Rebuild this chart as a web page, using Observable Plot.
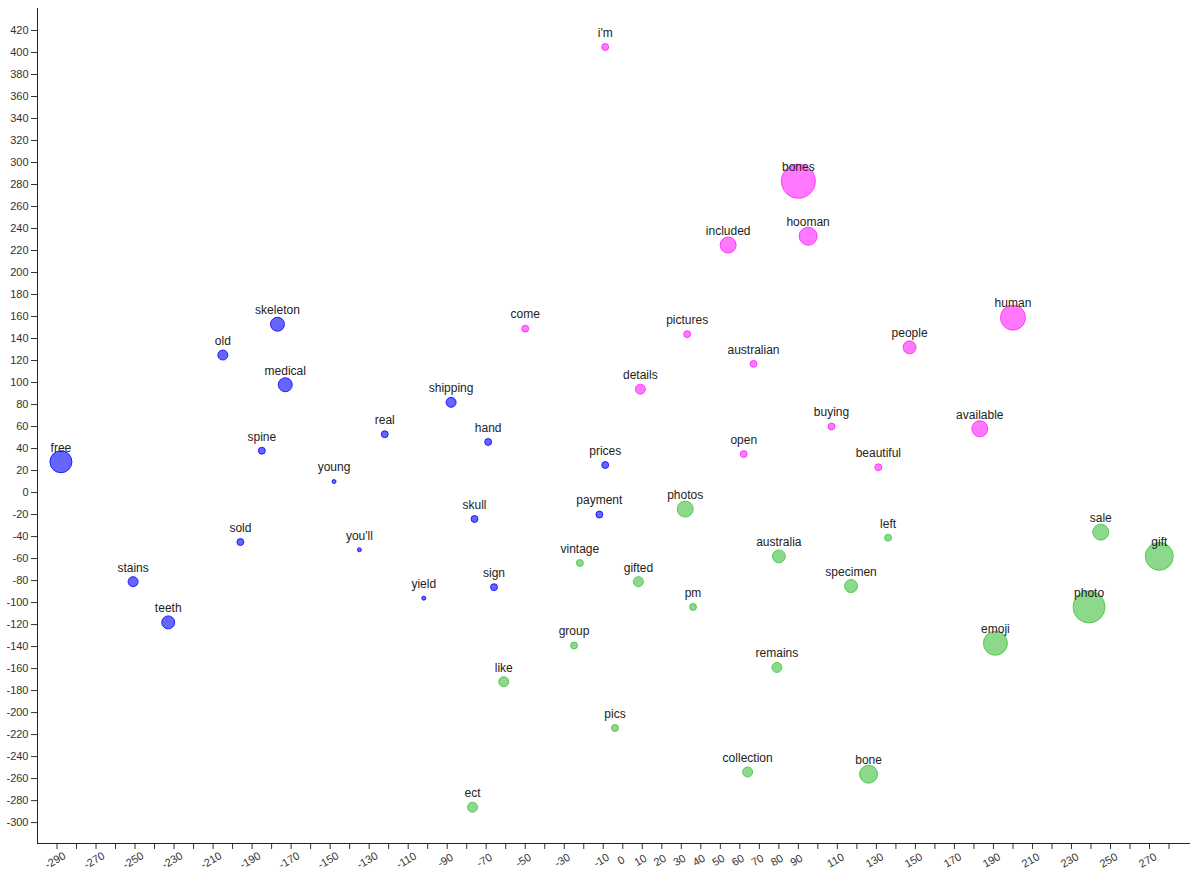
<!DOCTYPE html>
<html>
<head>
<meta charset="utf-8">
<script src="https://cdn.jsdelivr.net/npm/d3@7"></script>
<script src="https://cdn.jsdelivr.net/npm/@observablehq/plot@0.6"></script>
<style>
  body { margin: 0; background: #fff; }
  #chart { width: 1200px; height: 878px; }
</style>
</head>
<body>
<div id="chart"></div>
<script>
// words and their 2-d embedding positions
const words = [
  "free", "skeleton", "old", "medical", "spine", "shipping", "real", "hand", "young",
  "prices", "skull", "payment", "sold", "you'll", "stains", "sign", "yield", "teeth",
  "i'm", "bones", "hooman", "included", "human", "come", "pictures", "people", "australian",
  "details", "available", "buying", "open", "beautiful",
  "photos", "left", "sale", "gift", "vintage", "australia", "gifted", "specimen", "pm",
  "photo", "group", "emoji", "remains", "like", "pics", "collection", "bone", "ect"
];
const xs = [
  -288, -177, -205, -173, -185, -88, -122, -69, -148,
  -9, -76, -12, -196, -135, -251, -66, -102, -233,
  -9, 90, 95, 54, 200, -50, 33, 147, 67,
  9, 183, 107, 62, 131,
  32, 136, 245, 275, -22, 80, 8, 117, 36,
  239, -25, 191, 79, -61, -4, 64, 126, -77
];
const ys = [
  28, 153, 125, 98, 38, 82, 53, 46, 10,
  25, -24, -20, -45, -52, -81, -86, -96, -118,
  405, 283, 233, 225, 159, 149, 144, 132, 117,
  94, 58, 60, 35, 23,
  -15, -41, -36, -58, -64, -58, -81, -85, -104,
  -104, -139, -137, -159, -172, -214, -254, -256, -286
];
const counts = [
  121, 49, 25, 49, 12, 25, 12, 12, 4,
  12, 12, 12, 12, 4, 25, 12, 4, 42,
  12, 289, 81, 64, 156, 12, 12, 42, 12,
  25, 64, 12, 12, 12,
  64, 12, 64, 196, 12, 42, 25, 42, 12,
  256, 12, 144, 25, 25, 12, 25, 81, 25
];
const clusters = [
  "a", "a", "a", "a", "a", "a", "a", "a", "a",
  "a", "a", "a", "a", "a", "a", "a", "a", "a",
  "b", "b", "b", "b", "b", "b", "b", "b", "b",
  "b", "b", "b", "b", "b",
  "c", "c", "c", "c", "c", "c", "c", "c", "c",
  "c", "c", "c", "c", "c", "c", "c", "c", "c"
];

const xDomain = [-300, 291];
const yDomain = [-319, 440];
const xTicks = d3.range(-290, 281, 10);
const yTicks = d3.range(-300, 421, 20);
const xTickLabels = [
  -290, -270, -250, -230, -210, -190, -170, -150, -130, -110, -90, -70, -50, -30, -10,
  0, 10, 20, 30, 40, 50, 60, 70, 80, 90,
  110, 130, 150, 170, 190, 210, 230, 250, 270
];

const points = words.map((w, i) => ({word: w, x: xs[i], y: ys[i], n: counts[i], cluster: clusters[i]}));

const chart = Plot.plot({
  width: 1200,
  height: 878,
  marginLeft: 37,
  marginRight: 10,
  marginTop: 8,
  marginBottom: 35,
  style: {fontFamily: "'Liberation Sans', Arial, sans-serif", fontSize: "11px", color: "#333", background: "#fff"},
  x: {domain: xDomain},
  y: {domain: yDomain},
  r: {type: "sqrt", domain: [0, 289], range: [0, 17]},
  color: {domain: ["a", "b", "c"], range: ["#0000ff", "#ff1eff", "#3fc03f"]},
  marks: [
    Plot.axisY({ticks: yTicks, tickSize: 6, tickPadding: 3, tickFormat: d => String(d), label: null}),
    Plot.axisX({ticks: xTicks, tickSize: 6, tickFormat: () => "", label: null}),
    Plot.text(xTicks, {
      x: d => d,
      frameAnchor: "bottom",
      dy: 20,
      rotate: -30,
      text: d => xTickLabels.includes(d) ? String(d) : "",
      fill: "#333",
      fontSize: 11
    }),
    Plot.ruleX([xDomain[0]], {stroke: "#222"}),
    Plot.ruleY([yDomain[0]], {stroke: "#222"}),
    Plot.dot(points, {
      x: "x", y: "y", r: "n",
      fill: "cluster", stroke: "cluster",
      fillOpacity: 0.6, strokeOpacity: 0.8, strokeWidth: 1
    }),
    Plot.text(points, {x: "x", y: "y", text: "word", dy: -14, fontSize: 12, fill: "#222"})
  ]
});

document.querySelector("#chart").append(chart);
</script>
</body>
</html>
